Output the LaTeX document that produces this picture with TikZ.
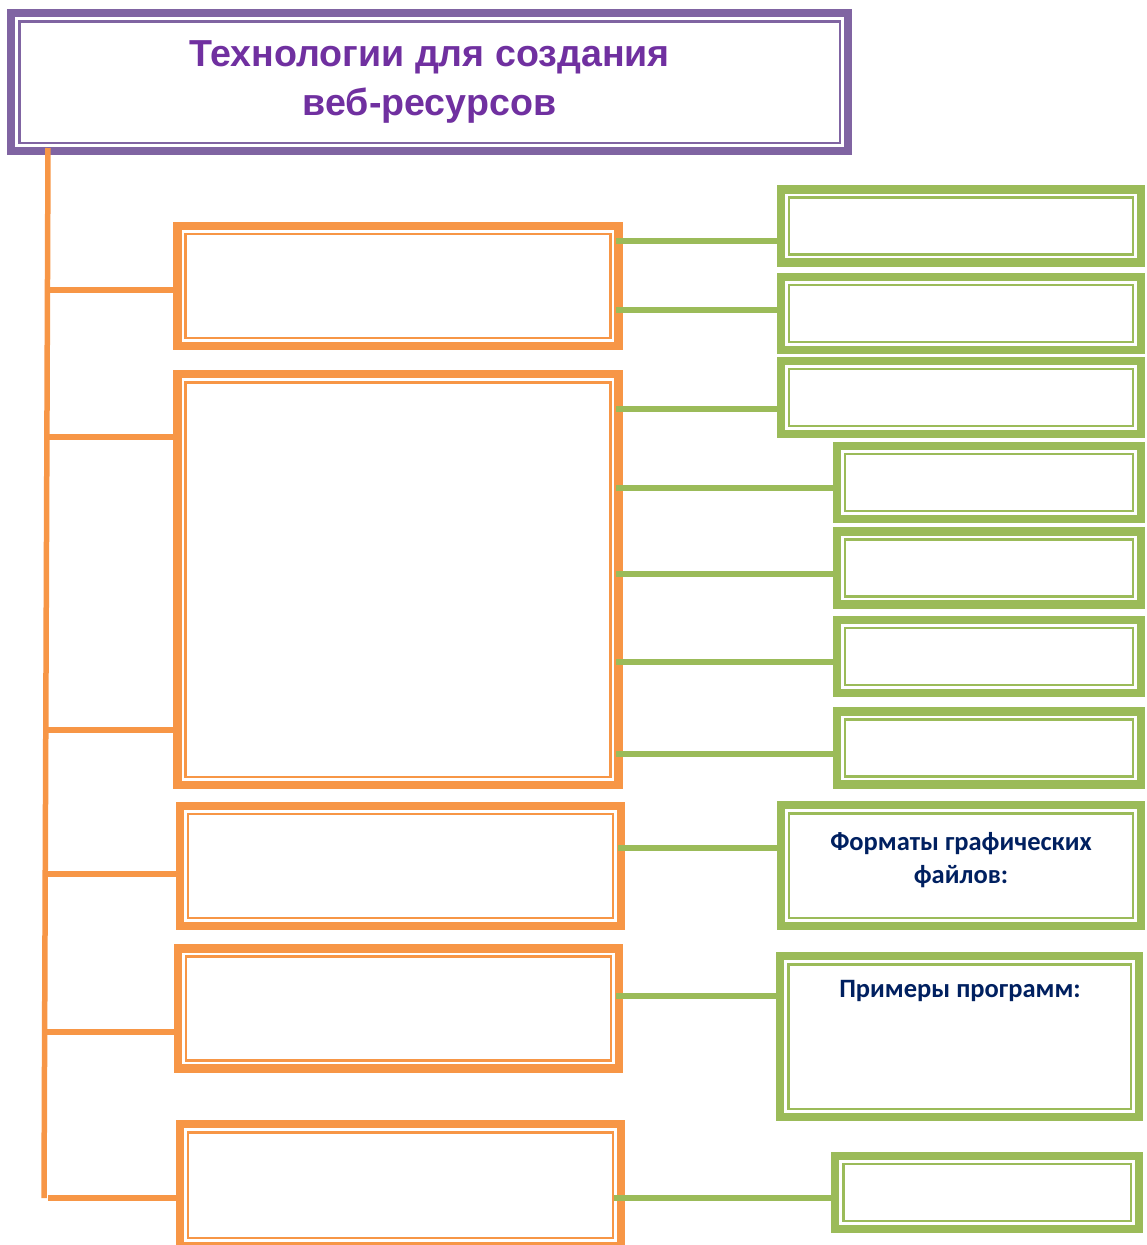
\documentclass[tikz,border=0pt]{standalone}
\usepackage{fontspec}
\setmainfont{Liberation Sans}
\newfontfamily\boxfont{Carlito}
\usepackage{tikz}

\definecolor{violetline}{HTML}{8064A2}
\definecolor{violettext}{HTML}{7030A0}
\definecolor{orangeline}{HTML}{F79646}
\definecolor{greenline}{HTML}{9BBB59}
\definecolor{navytext}{HTML}{002060}

\begin{document}
\begin{tikzpicture}[x=1pt,y=-1pt,
  dblframe/.style={draw=#1, fill=white, line width=8.4pt, inner sep=0pt,
    path picture={\draw[#1, line width=2.6pt]
      ([shift={(8pt,-8pt)}]path picture bounding box.north west) rectangle
      ([shift={(-8pt,8pt)}]path picture bounding box.south east);}},
  obox/.style={dblframe=orangeline, minimum width=441pt, minimum height=120pt},
  gbox/.style={dblframe=greenline, minimum width=360pt, minimum height=73pt},
  sbox/.style={dblframe=greenline, minimum width=304pt, minimum height=73pt},
  oline/.style={orangeline, line width=6pt},
  gline/.style={greenline, line width=5.5pt},
  gtext/.style={text=navytext, font=\boxfont\bfseries\fontsize{26.5}{33}\selectfont, align=center}]

  \clip (0,0) rectangle (1147,1245);

  \node[dblframe=violetline, minimum width=836.6pt, minimum height=137.6pt,
    text=violettext, font=\bfseries\fontsize{37.6}{49}\selectfont, align=center]
    (top) at (429.5,82) {Технологии для создания\\веб-ресурсов};

  \node[obox] (c1) at (398,286) {};
  \node[obox, minimum height=410.6pt] (c2) at (398,579.5) {};
  \node[obox] (c3) at (400.5,866) {};
  \node[obox] (c4) at (398.5,1008.5) {};
  \node[obox, minimum height=121.6pt] (c5) at (400.5,1185) {};

  \node[gbox] (g1) at (961,226) {};
  \node[gbox] (g2) at (961,313.5) {};
  \node[gbox] (g3) at (961,397.5) {};
  \node[sbox] (g4) at (989,482.5) {};
  \node[sbox] (g5) at (989,568) {};
  \node[sbox] (g6) at (989,656.5) {};
  \node[sbox] (g7) at (989,748) {};
  \node[gbox, minimum height=120.6pt] (g8) at (961,865.5) {};
  \node[gbox, minimum width=358.6pt, minimum height=160.6pt] (g9) at (959.5,1036.5) {};
  \node[sbox, minimum width=303.6pt] (g10) at (987,1192.5) {};
  \node[gtext, anchor=base] (p8) at (961,883) {Форматы графических\\файлов:};
  \node[gtext, anchor=base] (p9) at (960,997) {Примеры программ:};

  \coordinate (t0) at (48,148);
  \coordinate (t1) at (44,1198);
  \draw[oline, line width=5.5pt] (t0) -- (t1);

  \coordinate (j1) at (47,290);
  \coordinate (j2) at (47,437);
  \coordinate (j3) at (46,730);
  \coordinate (j4) at (46,874);
  \coordinate (j5) at (45,1032);
  \coordinate (j6) at (48,1198);

  \draw[oline] (j1) -- (j1 -| c1.west);
  \draw[oline] (j2) -- (j2 -| c2.west);
  \draw[oline] (j3) -- (j3 -| c2.west);
  \draw[oline] (j4) -- (j4 -| c3.west);
  \draw[oline] (j5) -- (j5 -| c4.west);
  \draw[oline] (j6) -- (j6 -| c5.west);

  \coordinate (k1) at (616,241);
  \coordinate (k2) at (616,310);
  \coordinate (k3) at (616,409);
  \coordinate (k4) at (616,488);
  \coordinate (k5) at (616,574);
  \coordinate (k6) at (616,662);
  \coordinate (k7) at (616,754);
  \coordinate (k8) at (618,848);
  \coordinate (k9) at (616,996);
  \coordinate (k10) at (614,1198);

  \draw[gline] (k1) -- (k1 -| g1.west);
  \draw[gline] (k2) -- (k2 -| g2.west);
  \draw[gline] (k3) -- (k3 -| g3.west);
  \draw[gline] (k4) -- (k4 -| g4.west);
  \draw[gline] (k5) -- (k5 -| g5.west);
  \draw[gline] (k6) -- (k6 -| g6.west);
  \draw[gline] (k7) -- (k7 -| g7.west);
  \draw[gline] (k8) -- (k8 -| g8.west);
  \draw[gline] (k9) -- (k9 -| g9.west);
  \draw[gline] (k10) -- (k10 -| g10.west);

\end{tikzpicture}
\end{document}
